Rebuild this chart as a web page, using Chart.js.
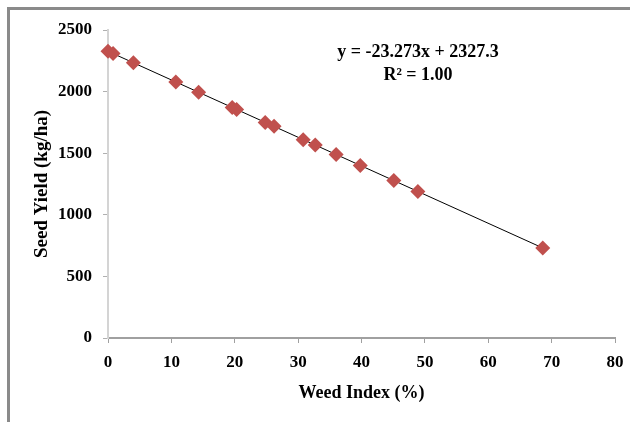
<!DOCTYPE html>
<html>
<head>
<meta charset="utf-8">
<script src="https://cdn.jsdelivr.net/npm/chart.js@4/dist/chart.umd.min.js"></script>
<style>
  html, body { margin: 0; padding: 0; background: #fff; }
  #marco { position: absolute; left: 0; top: 0; width: 630px; height: 422px; }
  #borde { position: absolute; left: 7px; top: 7px; width: 640px; height: 430px;
           border-top: 3px solid #8a8a8a; border-left: 3px solid #8a8a8a; }
  canvas { position: absolute; left: 0; top: 0; }
</style>
</head>
<body>
<div id="marco">
  <div id="borde"></div>
  <canvas id="grafica" width="630" height="422"></canvas>
</div>
<script>
// valores
const indiceMaleza = [0, 0.8, 4.0, 10.7, 14.3, 19.6, 20.3, 24.8, 26.2, 30.8, 32.7, 36.0, 39.8, 45.1, 48.9, 68.6];
const rendimiento = [2327, 2309, 2234, 2078, 1994, 1871, 1855, 1750, 1718, 1610, 1566, 1489, 1401, 1278, 1189, 731];

// línea de tendencia (extremos)
const tendenciaX = [0, 68.6];
const tendenciaY = [2327.3, 730.8];

const ticksX = [0, 10, 20, 30, 40, 50, 60, 70, 80];
const ticksY = [0, 500, 1000, 1500, 2000, 2500];

const ecuacion = 'y = -23.273x + 2327.3';
const r2 = 'R\u00B2 = 1.00';

const fuente = '"Liberation Serif", "Times New Roman", serif';

const textoEcuacion = {
  id: 'textoEcuacion',
  afterDraw(chart) {
    const ctx = chart.ctx;
    ctx.save();
    ctx.fillStyle = '#000';
    ctx.font = 'bold 18px ' + fuente;
    ctx.textAlign = 'center';
    ctx.textBaseline = 'middle';
    ctx.fillText(ecuacion, 418, 52);
    ctx.fillText(r2, 418, 75);
    ctx.restore();
  }
};

const ctx = document.getElementById('grafica').getContext('2d');
new Chart(ctx, {
  type: 'scatter',
  data: {
    datasets: [
      {
        label: 'Tendencia',
        type: 'line',
        data: tendenciaX.map((x, i) => ({ x, y: tendenciaY[i] })),
        borderColor: '#000',
        borderWidth: 1,
        pointRadius: 0,
        fill: false,
        clip: false,
        order: 2
      },
      {
        label: 'Rendimiento',
        data: indiceMaleza.map((x, i) => ({ x, y: rendimiento[i] })),
        pointStyle: 'rectRot',
        pointRadius: 7.5,
        backgroundColor: '#C0504D',
        borderColor: '#C0504D',
        borderWidth: 0,
        clip: false,
        order: 1
      }
    ]
  },
  options: {
    responsive: false,
    animation: false,
    layout: { padding: { top: 30, right: 15, left: 0, bottom: 18 } },
    plugins: { legend: { display: false }, tooltip: { enabled: false } },
    scales: {
      x: {
        type: 'linear',
        min: 0, max: 80,
        afterBuildTicks: s => { s.ticks = ticksX.map(v => ({ value: v })); },
        afterFit: s => { s.height = 66; s.paddingRight = 0; },
        border: { color: '#a0a0a0', width: 2 },
        grid: { drawOnChartArea: false, tickLength: 5, color: '#a0a0a0' },
        ticks: { color: '#000', font: { family: fuente, size: 17, weight: 'bold' }, padding: 9, maxRotation: 0,
                 callback: v => String(v) },
        title: { display: true, text: 'Weed Index (%)', color: '#000',
                 font: { family: fuente, size: 18, weight: 'bold' }, padding: { top: 2, bottom: 0 } }
      },
      y: {
        type: 'linear',
        min: 0, max: 2500,
        afterBuildTicks: s => { s.ticks = ticksY.map(v => ({ value: v })); },
        afterFit: s => { s.width = 108; },
        border: { color: '#d4d4d4', width: 2 },
        grid: { drawOnChartArea: false, tickLength: 5, color: '#b0b0b0' },
        ticks: { color: '#000', font: { family: fuente, size: 17, weight: 'bold' }, padding: 11,
                 callback: v => String(v) },
        title: { display: true, text: 'Seed Yield (kg/ha)', color: '#000',
                 font: { family: fuente, size: 19, weight: 'bold' }, padding: { top: 31, bottom: 0 } }
      }
    }
  },
  plugins: [textoEcuacion]
});
</script>
</body>
</html>
